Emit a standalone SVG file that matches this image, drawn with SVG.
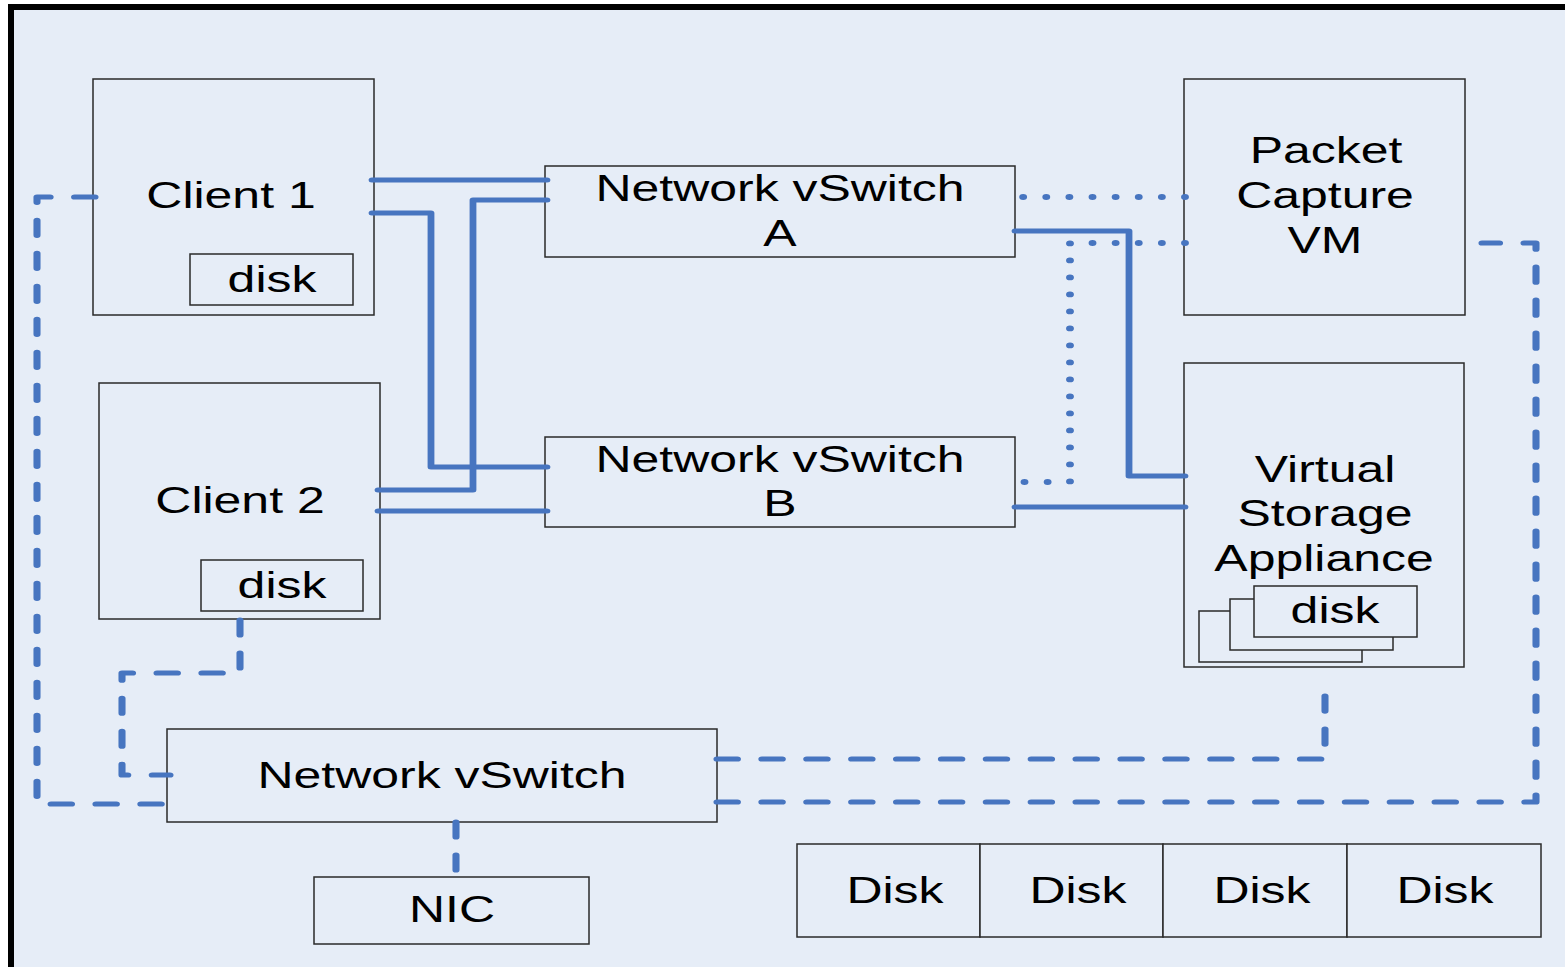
<svg xmlns="http://www.w3.org/2000/svg" width="1565" height="967" viewBox="0 0 1565 967">
<style>
.box{fill:#E6EDF7;stroke:#2a2a2a;stroke-width:1.5}
.t{font-family:"Liberation Sans",Arial,sans-serif;font-size:37px;fill:#000;text-anchor:middle}
.s,.d,.o{fill:none;stroke:#4775C0;stroke-width:5;stroke-linecap:round;stroke-linejoin:round}
.d{stroke-dasharray:15 18;stroke-width:5.2}
.o{stroke-dasharray:0 17;stroke-width:5.8}
</style>
<rect x="0" y="0" width="1565" height="967" fill="#ffffff"/>
<rect x="11" y="7" width="1600" height="1000" fill="#E6EDF7" stroke="#000" stroke-width="6"/>

<g id="client1">
<rect class="box" x="93" y="79" width="281" height="236"/>
<text class="t" transform="translate(231,208) scale(1.35,1)">Client 1</text>
<rect class="box" x="190" y="254" width="163" height="51"/>
<text class="t" transform="translate(272,292) scale(1.35,1)">disk</text>
</g>
<g id="client2">
<rect class="box" x="99" y="383" width="281" height="236"/>
<text class="t" transform="translate(240,513) scale(1.35,1)">Client 2</text>
<rect class="box" x="201" y="560" width="162" height="51"/>
<text class="t" transform="translate(282,598) scale(1.35,1)">disk</text>
</g>
<g id="vswitchA">
<rect class="box" x="545" y="166" width="470" height="91"/>
<text class="t" transform="translate(780,201) scale(1.35,1)">Network vSwitch</text>
<text class="t" transform="translate(780,246) scale(1.35,1)">A</text>
</g>
<g id="vswitchB">
<rect class="box" x="545" y="437" width="470" height="90"/>
<text class="t" transform="translate(780,472) scale(1.35,1)">Network vSwitch</text>
<text class="t" transform="translate(780,516) scale(1.35,1)">B</text>
</g>
<g id="capture">
<rect class="box" x="1184" y="79" width="281" height="236"/>
<text class="t" transform="translate(1326,163) scale(1.35,1)">Packet</text>
<text class="t" transform="translate(1325,208) scale(1.35,1)">Capture</text>
<text class="t" transform="translate(1325,253) scale(1.35,1)">VM</text>
</g>
<g id="vsa">
<rect class="box" x="1184" y="363" width="280" height="304"/>
<text class="t" transform="translate(1325,482) scale(1.35,1)">Virtual</text>
<text class="t" transform="translate(1325,526) scale(1.35,1)">Storage</text>
<text class="t" transform="translate(1324,571) scale(1.35,1)">Appliance</text>
<rect class="box" x="1199" y="611" width="163" height="51"/>
<rect class="box" x="1230" y="599" width="163" height="51"/>
<rect class="box" x="1254" y="586" width="163" height="51"/>
<text class="t" transform="translate(1335,623) scale(1.35,1)">disk</text>
</g>
<g id="vswitch">
<rect class="box" x="167" y="729" width="550" height="93"/>
<text class="t" transform="translate(442,788) scale(1.35,1)">Network vSwitch</text>
</g>
<g id="nic">
<rect class="box" x="314" y="877" width="275" height="67"/>
<text class="t" transform="translate(452,922) scale(1.35,1)">NIC</text>
</g>
<g id="disks">
<rect class="box" x="797" y="844" width="183" height="93"/>
<text class="t" transform="translate(895,903) scale(1.35,1)">Disk</text>
<rect class="box" x="980" y="844" width="183" height="93"/>
<text class="t" transform="translate(1078,903) scale(1.35,1)">Disk</text>
<rect class="box" x="1163" y="844" width="184" height="93"/>
<text class="t" transform="translate(1262,903) scale(1.35,1)">Disk</text>
<rect class="box" x="1347" y="844" width="194" height="93"/>
<text class="t" transform="translate(1445,903) scale(1.35,1)">Disk</text>
</g>

<g id="connectors" transform="scale(1.36,1)">
<path class="s" d="M273.53,180 H402.21"/>
<path class="s" d="M273.53,213 H316.91 V467 H402.21"/>
<path class="s" d="M402.21,200 H347.79 V490 H277.94"/>
<path class="s" d="M277.94,511 H402.21"/>
<path class="s" d="M746.32,231 H830.15 V476 H871.32"/>
<path class="s" d="M746.32,507 H871.32"/>

<path class="o" d="M871.32,197 H751.47"/>
<path class="o" d="M871.32,243 H786.76 V482 H746.32"/>

<path class="d" d="M69.85,197 H27.21 V804 H125"/>
<path class="d" d="M176.47,620 V673 H89.71 V775 H125"/>
<path class="d" d="M527.21,759 H974.26 V683"/>
<path class="d" d="M527.21,802 H1129.41 V243 H1089.71"/>
<path class="d" d="M335.29,822 V877"/>
</g>
</svg>
